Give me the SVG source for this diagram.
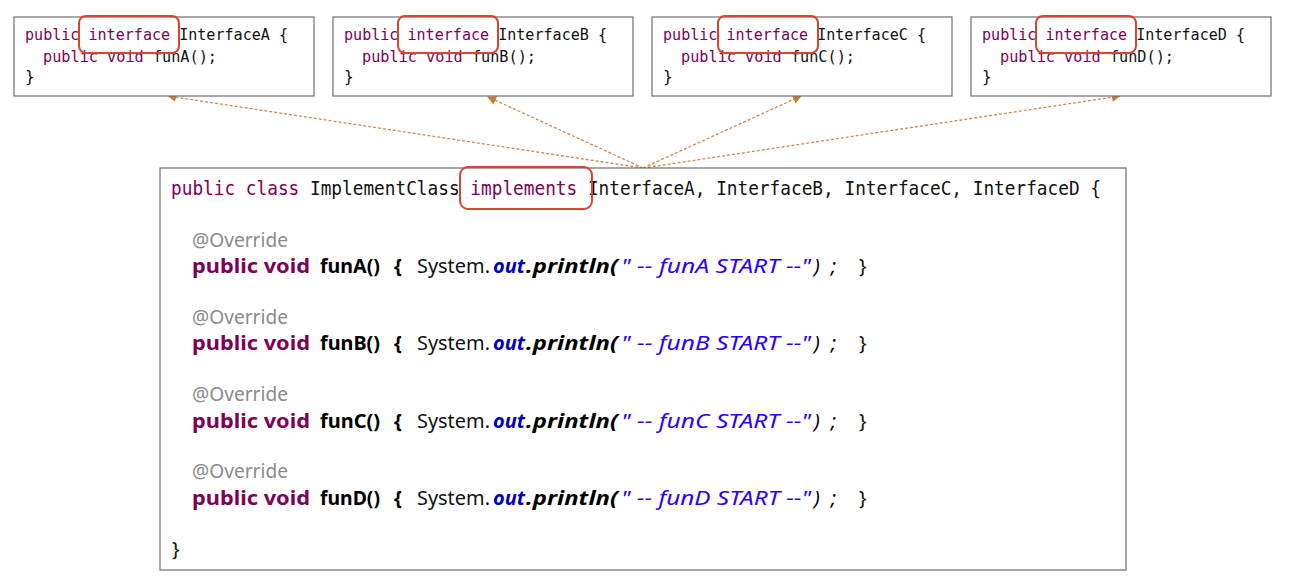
<svg xmlns="http://www.w3.org/2000/svg" width="1290" height="582" viewBox="0 0 1290 582">
<defs>
<style>
.box{fill:#fff;stroke:#6e6e6e;stroke-width:1.2}
.hl{fill:none;stroke:#d9432f;stroke-width:2}
.mono{font-family:"DejaVu Sans Mono","Liberation Mono",monospace}
.sm{font-size:16px}
.big{font-size:19px}
.kw{fill:#7f0055}
.tx{fill:#111}
.sans{font-family:"Noto Sans","Liberation Sans",sans-serif;font-size:20px}
.ann{fill:#8a8a8a}
.kwb{fill:#7f0055;font-weight:bold}
.b{fill:#000;font-weight:bold}
.fld{fill:#0000c0;font-weight:bold;font-style:italic}
.bi{fill:#000;font-weight:bold;font-style:italic}
.str{fill:#2a00ff;font-style:italic}
.it{fill:#000;font-style:italic}
.conn{fill:none;stroke:#d2884c;stroke-width:1.3;stroke-dasharray:3 2}
</style>
<marker id="ah" viewBox="0 0 10 10" refX="9" refY="5" markerWidth="9" markerHeight="9" markerUnits="userSpaceOnUse" orient="auto">
<path d="M0,0 L10,5 L0,10 z" fill="#c97a35"/>
</marker>
</defs>
<rect width="1290" height="582" fill="#fff"/>

<g id="connectors">
<line class="conn" x1="643" y1="168" x2="168" y2="96" marker-end="url(#ah)"/>
<line class="conn" x1="643" y1="168" x2="488" y2="97" marker-end="url(#ah)"/>
<line class="conn" x1="643" y1="168" x2="801" y2="96" marker-end="url(#ah)"/>
<line class="conn" x1="643" y1="168" x2="1120" y2="96" marker-end="url(#ah)"/>
</g>

<g id="interfaceA">
<rect class="box" x="14" y="17" width="300" height="79"/>
<text class="mono sm" x="25" y="40" textLength="263" lengthAdjust="spacingAndGlyphs"><tspan class="kw">public interface</tspan><tspan class="tx"> InterfaceA {</tspan></text>
<text class="mono sm" x="43" y="62" textLength="174" lengthAdjust="spacingAndGlyphs"><tspan class="kw">public void</tspan><tspan class="tx"> funA();</tspan></text>
<text class="mono sm tx" x="25" y="82">}</text>
<rect class="hl" x="79" y="16" width="100" height="37" rx="7"/>
</g>

<g id="interfaceB">
<rect class="box" x="333" y="17" width="300" height="79"/>
<text class="mono sm" x="344" y="40" textLength="263" lengthAdjust="spacingAndGlyphs"><tspan class="kw">public interface</tspan><tspan class="tx"> InterfaceB {</tspan></text>
<text class="mono sm" x="362" y="62" textLength="174" lengthAdjust="spacingAndGlyphs"><tspan class="kw">public void</tspan><tspan class="tx"> funB();</tspan></text>
<text class="mono sm tx" x="344" y="82">}</text>
<rect class="hl" x="398" y="16" width="100" height="37" rx="7"/>
</g>

<g id="interfaceC">
<rect class="box" x="652" y="17" width="300" height="79"/>
<text class="mono sm" x="663" y="40" textLength="263" lengthAdjust="spacingAndGlyphs"><tspan class="kw">public interface</tspan><tspan class="tx"> InterfaceC {</tspan></text>
<text class="mono sm" x="681" y="62" textLength="174" lengthAdjust="spacingAndGlyphs"><tspan class="kw">public void</tspan><tspan class="tx"> funC();</tspan></text>
<text class="mono sm tx" x="663" y="82">}</text>
<rect class="hl" x="718" y="16" width="100" height="37" rx="7"/>
</g>

<g id="interfaceD">
<rect class="box" x="971" y="17" width="300" height="79"/>
<text class="mono sm" x="982" y="40" textLength="263" lengthAdjust="spacingAndGlyphs"><tspan class="kw">public interface</tspan><tspan class="tx"> InterfaceD {</tspan></text>
<text class="mono sm" x="1000" y="62" textLength="174" lengthAdjust="spacingAndGlyphs"><tspan class="kw">public void</tspan><tspan class="tx"> funD();</tspan></text>
<text class="mono sm tx" x="982" y="82">}</text>
<rect class="hl" x="1036" y="16" width="100" height="37" rx="7"/>
</g>

<g id="implementClass">
<rect class="box" x="160" y="168" width="966" height="402"/>
<text class="mono big" x="171" y="195" textLength="930" lengthAdjust="spacingAndGlyphs"><tspan class="kw">public class</tspan><tspan class="tx"> ImplementClass </tspan><tspan class="kw">implements</tspan><tspan class="tx"> InterfaceA, InterfaceB, InterfaceC, InterfaceD {</tspan></text>
<rect class="hl" x="460" y="167" width="132" height="42" rx="8"/>

<text class="sans ann" x="192" y="247" textLength="96" lengthAdjust="spacingAndGlyphs">@Override</text>
<text class="sans" y="273"><tspan class="kwb" x="192" textLength="118" lengthAdjust="spacingAndGlyphs">public void</tspan><tspan class="b" x="320" textLength="60" lengthAdjust="spacingAndGlyphs">funA()</tspan><tspan class="b" x="394">{</tspan><tspan class="tx" x="417" textLength="73" lengthAdjust="spacingAndGlyphs">System.</tspan><tspan class="fld" x="493" textLength="32" lengthAdjust="spacingAndGlyphs">out</tspan><tspan class="bi" x="526" textLength="92" lengthAdjust="spacingAndGlyphs">.println(</tspan><tspan class="str" x="621" textLength="190" lengthAdjust="spacingAndGlyphs">" -- funA START --"</tspan><tspan class="it" x="814" textLength="22" lengthAdjust="spacing">);</tspan><tspan class="tx" x="859">}</tspan></text>

<text class="sans ann" x="192" y="324" textLength="96" lengthAdjust="spacingAndGlyphs">@Override</text>
<text class="sans" y="350"><tspan class="kwb" x="192" textLength="118" lengthAdjust="spacingAndGlyphs">public void</tspan><tspan class="b" x="320" textLength="60" lengthAdjust="spacingAndGlyphs">funB()</tspan><tspan class="b" x="394">{</tspan><tspan class="tx" x="417" textLength="73" lengthAdjust="spacingAndGlyphs">System.</tspan><tspan class="fld" x="493" textLength="32" lengthAdjust="spacingAndGlyphs">out</tspan><tspan class="bi" x="526" textLength="92" lengthAdjust="spacingAndGlyphs">.println(</tspan><tspan class="str" x="621" textLength="190" lengthAdjust="spacingAndGlyphs">" -- funB START --"</tspan><tspan class="it" x="814" textLength="22" lengthAdjust="spacing">);</tspan><tspan class="tx" x="859">}</tspan></text>

<text class="sans ann" x="192" y="401" textLength="96" lengthAdjust="spacingAndGlyphs">@Override</text>
<text class="sans" y="428"><tspan class="kwb" x="192" textLength="118" lengthAdjust="spacingAndGlyphs">public void</tspan><tspan class="b" x="320" textLength="60" lengthAdjust="spacingAndGlyphs">funC()</tspan><tspan class="b" x="394">{</tspan><tspan class="tx" x="417" textLength="73" lengthAdjust="spacingAndGlyphs">System.</tspan><tspan class="fld" x="493" textLength="32" lengthAdjust="spacingAndGlyphs">out</tspan><tspan class="bi" x="526" textLength="92" lengthAdjust="spacingAndGlyphs">.println(</tspan><tspan class="str" x="621" textLength="190" lengthAdjust="spacingAndGlyphs">" -- funC START --"</tspan><tspan class="it" x="814" textLength="22" lengthAdjust="spacing">);</tspan><tspan class="tx" x="859">}</tspan></text>

<text class="sans ann" x="192" y="478" textLength="96" lengthAdjust="spacingAndGlyphs">@Override</text>
<text class="sans" y="505"><tspan class="kwb" x="192" textLength="118" lengthAdjust="spacingAndGlyphs">public void</tspan><tspan class="b" x="320" textLength="60" lengthAdjust="spacingAndGlyphs">funD()</tspan><tspan class="b" x="394">{</tspan><tspan class="tx" x="417" textLength="73" lengthAdjust="spacingAndGlyphs">System.</tspan><tspan class="fld" x="493" textLength="32" lengthAdjust="spacingAndGlyphs">out</tspan><tspan class="bi" x="526" textLength="92" lengthAdjust="spacingAndGlyphs">.println(</tspan><tspan class="str" x="621" textLength="190" lengthAdjust="spacingAndGlyphs">" -- funD START --"</tspan><tspan class="it" x="814" textLength="22" lengthAdjust="spacing">);</tspan><tspan class="tx" x="859">}</tspan></text>

<text class="sans tx" x="172" y="556">}</text>
</g>
</svg>
